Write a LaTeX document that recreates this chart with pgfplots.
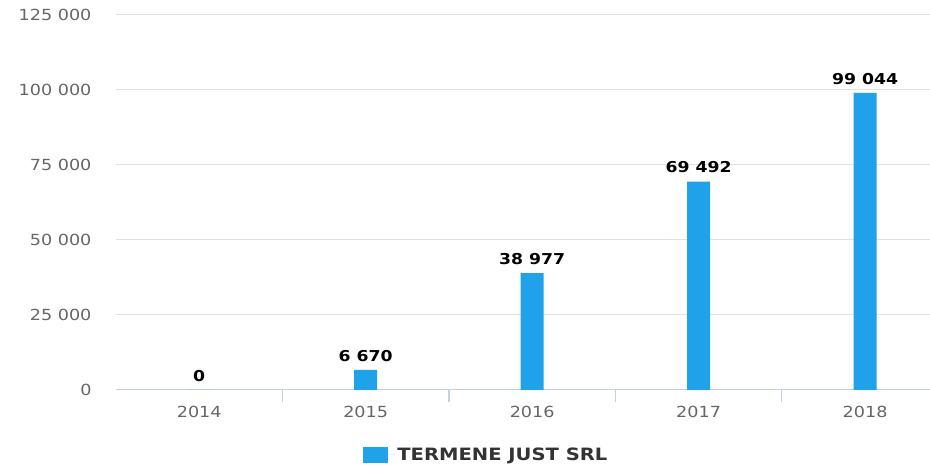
\documentclass[border=0pt]{standalone}
\usepackage{fontspec}
\setmainfont[FakeStretch=1.15]{DejaVu Sans}
\usepackage{pgfplots}
\pgfplotsset{compat=1.18}
\definecolor{barblue}{HTML}{1FA2EA}
\definecolor{axisline}{HTML}{C4D0E6}
\definecolor{gridc}{HTML}{E1E1E1}
\definecolor{ticklab}{HTML}{666666}
\definecolor{legtxt}{HTML}{333333}
\begin{document}
\begin{tikzpicture}[x=1pt,y=1pt]
\useasboundingbox (0,0) rectangle (930,466);
\begin{axis}[
  at={(116pt,76pt)}, anchor=south west,
  scale only axis, width=814pt, height=375pt,
  xmin=-0.5, xmax=4.39, ymin=0, ymax=125000,
  ybar, bar width=23pt,
  axis x line*=bottom, axis y line*=left,
  y axis line style={draw=none},
  x axis line style={draw=axisline, line width=1pt},
  ytick={0,25000,50000,75000,100000,125000},
  yticklabels={0,25 000,50 000,75 000,100 000,125 000},
  scaled y ticks=false,
  ytick style={draw=none},
  ymajorgrids, grid style={draw=gridc, line width=1pt},
  xtick={0,1,2,3,4},
  xticklabels={2014,2015,2016,2017,2018},
  xtick style={draw=none},
  extra x ticks={0.5,1.5,2.5,3.5},
  extra x tick labels={},
  extra x tick style={grid=none, xtick style={draw=axisline, line width=1.2pt}, major tick length=12pt, tick align=outside},
  font=\fontsize{15.3}{18}\selectfont,
  xticklabel style={text=ticklab, yshift=-8pt},
  yticklabel style={text=ticklab, xshift=-21pt},
  point meta=explicit symbolic,
  nodes near coords={\pgfplotspointmeta},
  nodes near coords style={font=\fontsize{15}{18}\selectfont\bfseries, text=black, yshift=5pt},
  legend style={at={(0.455,-0.173)}, anchor=center, draw=none, fill=none, font=\fontsize{17}{20}\selectfont\bfseries, text=legtxt},
  legend image code/.code={\fill[#1] (0pt,-8pt) rectangle (25pt,8pt); \path (25pt,0pt) -- (32pt,0pt);},
]
\addplot[fill=barblue, draw=none] coordinates {(0,0) [0] (1,6670) [6 670] (2,38977) [38 977] (3,69492) [69 492] (4,99044) [99 044]};
\addlegendentry{TERMENE JUST SRL}
\end{axis}
\end{tikzpicture}
\end{document}
